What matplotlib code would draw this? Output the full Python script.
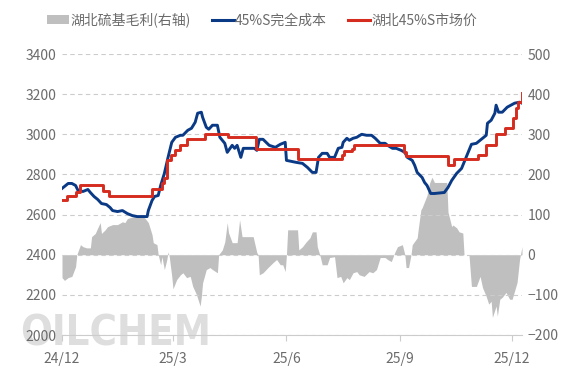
import matplotlib
matplotlib.use("Agg")
import matplotlib.pyplot as plt
from matplotlib.patches import Patch
from matplotlib.lines import Line2D
import pandas as pd

plt.rcParams['font.family'] = ['Noto Sans CJK SC', 'DejaVu Sans']

# -----------------------------------------------------------------------------
# Data
# -----------------------------------------------------------------------------
cost_dates = [
    "2024-12-01", "2024-12-06", "2024-12-09", "2024-12-12", "2024-12-14", "2024-12-18",
    "2024-12-22", "2024-12-24", "2024-12-27", "2024-12-30", "2025-01-02", "2025-01-06",
    "2025-01-09", "2025-01-11", "2025-01-15", "2025-01-19", "2025-01-23", "2025-01-27",
    "2025-01-31", "2025-02-08", "2025-02-09", "2025-02-12", "2025-02-14", "2025-02-17",
    "2025-02-19", "2025-02-22", "2025-02-25", "2025-02-28", "2025-03-03", "2025-03-07",
    "2025-03-09", "2025-03-13", "2025-03-16", "2025-03-19", "2025-03-21", "2025-03-24",
    "2025-03-25", "2025-03-28", "2025-03-30", "2025-04-02", "2025-04-06", "2025-04-08",
    "2025-04-12", "2025-04-14", "2025-04-18", "2025-04-20", "2025-04-22", "2025-04-25",
    "2025-04-27", "2025-05-06", "2025-05-08", "2025-05-10", "2025-05-13", "2025-05-18",
    "2025-05-23", "2025-05-27", "2025-05-31", "2025-06-01", "2025-06-09", "2025-06-14",
    "2025-06-18", "2025-06-22", "2025-06-25", "2025-06-27", "2025-06-30", "2025-07-04",
    "2025-07-06", "2025-07-10", "2025-07-13", "2025-07-16", "2025-07-17", "2025-07-20",
    "2025-07-22", "2025-07-25", "2025-07-28", "2025-08-01", "2025-08-05", "2025-08-09",
    "2025-08-12", "2025-08-16", "2025-08-20", "2025-08-22", "2025-08-26", "2025-08-29",
    "2025-09-02", "2025-09-05", "2025-09-07", "2025-09-11", "2025-09-13", "2025-09-15",
    "2025-09-19", "2025-09-21", "2025-09-23", "2025-09-26", "2025-09-29", "2025-10-07",
    "2025-10-10", "2025-10-13", "2025-10-17", "2025-10-21", "2025-10-23", "2025-10-29",
    "2025-11-02", "2025-11-07", "2025-11-10", "2025-11-11", "2025-11-14", "2025-11-17",
    "2025-11-18", "2025-11-20", "2025-11-23", "2025-11-27", "2025-12-03", "2025-12-07",
    "2025-12-09",
]
cost_values = [
    2730, 2755, 2755, 2745, 2720, 2715,
    2725, 2710, 2690, 2675, 2655, 2650,
    2635, 2620, 2615, 2620, 2605, 2595,
    2590, 2590, 2620, 2670, 2690, 2695,
    2745, 2805, 2885, 2960, 2985, 2995,
    2995, 3020, 3030, 3060, 3105, 3110,
    3085, 3035, 3025, 3045, 3045, 2985,
    2955, 2910, 2945, 2930, 2945, 2885,
    2930, 2930, 2920, 2975, 2975, 2945,
    2935, 2950, 2960, 2870, 2860, 2855,
    2835, 2810, 2810, 2885, 2905, 2905,
    2885, 2885, 2930, 2935, 2960, 2980,
    2970, 2980, 2985, 3000, 2995, 2995,
    2980, 2955, 2955, 2945, 2930, 2930,
    2920, 2910, 2885, 2870, 2845, 2810,
    2785, 2760, 2745, 2705, 2705, 2710,
    2735, 2770, 2805, 2830, 2860, 2950,
    2955, 2980, 2995, 3055, 3070, 3105,
    3145, 3110, 3110, 3135, 3155, 3160,
    3155,
]

# market price changes (value holds until the next date)
price_dates = [
    "2024-12-01", "2024-12-05", "2024-12-12", "2024-12-16", "2025-01-03", "2025-01-08",
    "2025-02-12", "2025-02-20", "2025-02-22", "2025-02-24", "2025-02-27", "2025-03-03",
    "2025-03-07", "2025-03-12", "2025-03-27", "2025-04-15", "2025-05-07", "2025-06-10",
    "2025-07-16", "2025-07-18", "2025-07-24", "2025-07-26", "2025-09-04", "2025-09-06",
    "2025-10-10", "2025-10-15", "2025-11-03", "2025-11-10", "2025-11-18", "2025-11-25",
    "2025-12-02", "2025-12-04", "2025-12-06", "2025-12-09",
]
price_values = [
    2675, 2695, 2710, 2745, 2715, 2695,
    2725, 2755, 2780, 2870, 2895, 2920,
    2945, 2975, 3000, 2985, 2925, 2875,
    2895, 2915, 2925, 2945, 2910, 2890,
    2845, 2875, 2895, 2945, 3000, 3030,
    3080, 3130, 3160, 3205,
]

margin_dates = [
    "2024-12-01", "2024-12-03", "2024-12-06", "2024-12-09", "2024-12-12", "2024-12-13",
    "2024-12-16", "2024-12-18", "2024-12-21", "2024-12-24", "2024-12-25", "2024-12-28",
    "2024-12-30", "2025-01-01", "2025-01-02", "2025-01-05", "2025-01-07", "2025-01-11",
    "2025-01-15", "2025-01-19", "2025-01-21", "2025-01-23", "2025-01-25", "2025-01-29",
    "2025-02-02", "2025-02-06", "2025-02-09", "2025-02-12", "2025-02-13", "2025-02-16",
    "2025-02-17", "2025-02-19", "2025-02-20", "2025-02-22", "2025-02-24", "2025-02-25",
    "2025-02-26", "2025-02-28", "2025-03-01", "2025-03-04", "2025-03-07", "2025-03-09",
    "2025-03-12", "2025-03-15", "2025-03-17", "2025-03-20", "2025-03-23", "2025-03-24",
    "2025-03-25", "2025-03-28", "2025-03-31", "2025-04-02", "2025-04-06", "2025-04-07",
    "2025-04-10", "2025-04-12", "2025-04-14", "2025-04-15", "2025-04-18", "2025-04-22",
    "2025-04-24", "2025-04-26", "2025-05-05", "2025-05-08", "2025-05-09", "2025-05-10",
    "2025-05-13", "2025-05-17", "2025-05-21", "2025-05-24", "2025-05-27", "2025-05-29",
    "2025-05-31", "2025-06-01", "2025-06-02", "2025-06-10", "2025-06-11", "2025-06-14",
    "2025-06-17", "2025-06-20", "2025-06-22", "2025-06-25", "2025-06-26", "2025-06-28",
    "2025-06-30", "2025-07-04", "2025-07-06", "2025-07-10", "2025-07-12", "2025-07-15",
    "2025-07-17", "2025-07-20", "2025-07-22", "2025-07-25", "2025-07-28", "2025-07-30",
    "2025-08-03", "2025-08-07", "2025-08-10", "2025-08-13", "2025-08-16", "2025-08-20",
    "2025-08-22", "2025-08-25", "2025-08-28", "2025-08-30", "2025-09-03", "2025-09-05",
    "2025-09-06", "2025-09-08", "2025-09-10", "2025-09-11", "2025-09-15", "2025-09-16",
    "2025-09-18", "2025-09-19", "2025-09-23", "2025-09-25", "2025-09-27", "2025-09-29",
    "2025-10-09", "2025-10-10", "2025-10-13", "2025-10-14", "2025-10-17", "2025-10-19",
    "2025-10-22", "2025-10-23", "2025-10-27", "2025-10-29", "2025-11-02", "2025-11-05",
    "2025-11-07", "2025-11-10", "2025-11-12", "2025-11-14", "2025-11-15", "2025-11-18",
    "2025-11-19", "2025-11-21", "2025-11-23", "2025-11-26", "2025-11-29", "2025-12-01",
    "2025-12-05", "2025-12-07", "2025-12-09",
]
margin_values = [
    -57, -64, -57, -54, -30, 0,
    25, 20, 17, 17, 45, 53,
    67, 80, 53, 62, 70, 75,
    75, 82, 80, 90, 92, 95,
    95, 92, 80, 50, 30, 25,
    0, -25, -5, -37, -12, 7,
    -5, -54, -85, -62, -50, -45,
    -57, -54, -79, -99, -128, -104,
    -70, -37, -32, -37, -45, 0,
    12, 32, 80, 55, 30, 30,
    87, 45, 45, 5, 0, -50,
    -45, -32, -20, -12, -25, -25,
    -42, 0, 62, 62, 12, 20,
    32, 42, 57, 57, 20, 0,
    -25, -25, -7, -5, -57, -54,
    -70, -57, -62, -45, -42, -50,
    -54, -42, -45, -37, -7, -7,
    -12, -17, 7, 20, 25, 0,
    -32, -32, 0, 25, 42, 67,
    112, 117, 148, 178, 193, 180,
    180, 106, 70, 74, 67, 57,
    54, 0, 0, -79, -79, -54,
    -82, -104, -123, -116, -156, -128,
    -153, -111, -106, -94, -111, -111,
    -69, -12, 20,
]

legend_labels = ["湖北硫基毛利(右轴)", "45%S完全成本", "湖北45%S市场价"]
tick_dates = ["2024-12-01", "2025-03-01", "2025-06-01", "2025-09-01", "2025-12-01"]
tick_labels = ["24/12", "25/3", "25/6", "25/9", "25/12"]

# -----------------------------------------------------------------------------
# Plot
# -----------------------------------------------------------------------------
GREY = "#BFBFBF"
BLUE = "#0A3A86"
RED = "#D62B1F"
TEXT = "#6B6B6B"

fig = plt.figure(figsize=(5.82, 3.78), dpi=100)
ax = fig.add_axes([62 / 582, 1 - 335 / 378, 460 / 582, 281 / 378])
ax2 = ax.twinx()

# watermark
fig.text(20 / 582, 1 - 345 / 378, "OILCHEM", fontsize=30, fontweight="bold",
         family=["DejaVu Sans"], fontstretch="condensed", color="#DEDEDE",
         ha="left", va="baseline", zorder=0)

ax2.fill_between(pd.to_datetime(margin_dates), margin_values, 0, color=GREY, linewidth=0)

ax.plot(pd.to_datetime(cost_dates), cost_values, color=BLUE, linewidth=2.1,
        solid_joinstyle="round")
ax.step(pd.to_datetime(price_dates), price_values, where="post", color=RED,
        linewidth=2.1)

ax.set_zorder(ax2.get_zorder() + 1)
ax.patch.set_visible(False)

ax.set_ylim(2000, 3400)
ax.set_yticks(range(2000, 3401, 200))
ax2.set_ylim(-200, 500)
ax2.set_yticks(range(-200, 501, 100))
ax.set_xlim(pd.Timestamp("2024-12-01"), pd.Timestamp("2025-12-09"))
ax.set_xticks(pd.to_datetime(tick_dates))
ax.set_xticklabels(tick_labels)

ax.grid(True, axis="y", linestyle=(0, (4, 3)), color="#CCCCCC", linewidth=0.8)

for a in (ax, ax2):
    for side in ("left", "right", "top"):
        a.spines[side].set_visible(False)
    a.spines["bottom"].set_color("#CCCCCC")
    a.tick_params(axis="y", length=0, labelsize=10, labelcolor=TEXT, pad=4)
ax2.spines["bottom"].set_visible(False)
ax.tick_params(axis="x", length=4, color="#CCCCCC", labelsize=10, labelcolor=TEXT, pad=8)

handles = [
    Patch(facecolor=GREY, edgecolor="none"),
    Line2D([], [], color=BLUE, linewidth=2.2),
    Line2D([], [], color=RED, linewidth=2.2),
]
fig.legend(handles, legend_labels, ncol=3, loc="center", bbox_to_anchor=(262 / 582, 1 - 20 / 378),
           frameon=False, fontsize=10, labelcolor=TEXT, handlelength=1.6, handleheight=0.6,
           handletextpad=0.1, columnspacing=1.5)

fig.savefig("out.png", dpi=100)
